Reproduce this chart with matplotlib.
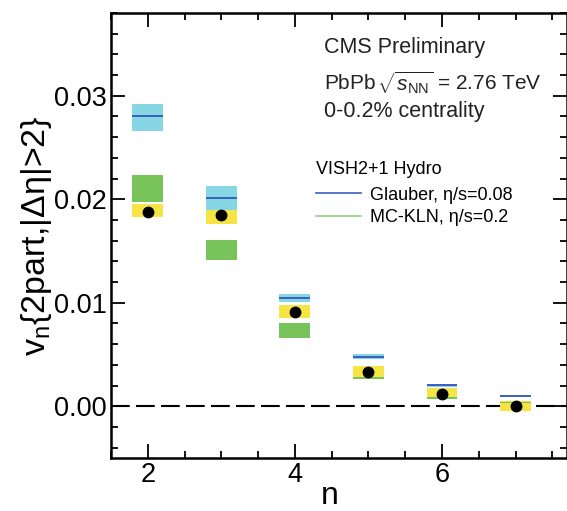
import matplotlib
matplotlib.use('Agg')
import matplotlib.pyplot as plt
from matplotlib.lines import Line2D
from matplotlib.ticker import MultipleLocator, FormatStrFormatter

plt.rcParams['font.family'] = ['Liberation Sans', 'DejaVu Sans']
plt.rcParams['mathtext.fontset'] = 'custom'
plt.rcParams['mathtext.rm'] = 'Liberation Sans'
plt.rcParams['mathtext.it'] = 'Liberation Sans:italic'

# harmonic number
n = [2, 3, 4, 5, 6, 7]

# CMS data, v_n{2part,|deta|>2} with systematic band
vn = [0.0188, 0.0185, 0.0091, 0.0033, 0.0012, 0.0000]
sys_lo = [0.01825, 0.01757, 0.00854, 0.00259, 0.00068, -0.00046]
sys_hi = [0.01950, 0.01900, 0.00980, 0.00388, 0.00175, 0.00051]

# VISH2+1, Glauber eta/s=0.08
glauber_mid = [0.02806, 0.02010, 0.01049, 0.00479, 0.00203, 0.00097]
glauber_lo = [0.02660, 0.01900, 0.01010, 0.00453, 0.00190, 0.00090]
glauber_hi = [0.02920, 0.02130, 0.01087, 0.00505, 0.00214, 0.00103]

# VISH2+1, MC-KLN eta/s=0.2
kln_lo = [0.01970, 0.01410, 0.00660, 0.00259, 0.00068, 0.00030]
kln_hi = [0.02230, 0.01610, 0.00806, 0.00284, 0.00090, 0.00042]

box_w = 0.42
cyan = '#86d6e4'
blue = '#3a5fbf'
green = '#79c35b'
green_line = '#8fd27f'
yellow = '#f6e445'


def spans(lo, hi):
    return [h - l for l, h in zip(lo, hi)]


fig = plt.figure(figsize=(5.67, 5.11), dpi=100)
ax = fig.add_axes([0.1958, 0.1037, 0.8042, 0.8709])

ax.axhline(0, color='black', lw=1.5, ls=(0, (9, 3)), zorder=1)

ax.bar(n, spans(glauber_lo, glauber_hi), bottom=glauber_lo, width=box_w,
       color=cyan, lw=0, zorder=2)
ax.hlines(glauber_mid, [x - box_w / 2 for x in n], [x + box_w / 2 for x in n],
          color=blue, lw=1.4, zorder=3)
ax.bar(n, spans(sys_lo, sys_hi), bottom=sys_lo, width=box_w,
       color=yellow, lw=0, zorder=3)
ax.bar(n, spans(kln_lo, kln_hi), bottom=kln_lo, width=box_w,
       color=green, lw=0, zorder=4)
ax.plot(n, vn, 'o', color='black', ms=7.5, zorder=5)

ax.set_xlim(1.5, 7.7)
ax.set_ylim(-0.005, 0.038)
ax.xaxis.set_major_locator(MultipleLocator(2))
ax.xaxis.set_minor_locator(MultipleLocator(0.5))
ax.yaxis.set_major_locator(MultipleLocator(0.01))
ax.yaxis.set_minor_locator(MultipleLocator(0.002))
ax.yaxis.set_major_formatter(FormatStrFormatter('%.2f'))

ax.tick_params(which='both', direction='in', top=True, right=True,
               width=1.3, labelsize=19.5, pad=3)
ax.tick_params(which='major', length=10)
ax.tick_params(which='minor', length=5)
for sp in ax.spines.values():
    sp.set_linewidth(1.8)

ax.set_xlabel('n', fontsize=23)
ax.xaxis.set_label_coords(0.48, -0.052)
ax.set_ylabel(r'v$_{\mathrm{n}}${2part,|Δη|>2}', fontsize=24.5, labelpad=0)

ax.text(0.467, 0.910, 'CMS Preliminary', transform=ax.transAxes,
        fontsize=15.5, color='#222222')
ax.text(0.467, 0.827, r'PbPb$\,\sqrt{s_{\mathrm{NN}}}$ = 2.76 TeV',
        transform=ax.transAxes, fontsize=15, color='#222222')
ax.text(0.467, 0.766, '0-0.2% centrality', transform=ax.transAxes,
        fontsize=15.5, color='#222222')

handles = [Line2D([], [], color=blue, lw=1.2),
           Line2D([], [], color=green_line, lw=1.2)]
ax.legend(handles, ['Glauber, η/s=0.08', 'MC-KLN, η/s=0.2'],
          title='VISH2+1 Hydro', loc='upper left', bbox_to_anchor=(0.449, 0.667),
          frameon=False, alignment='left', borderpad=0, borderaxespad=0,
          handlelength=2.5, handletextpad=0.5, labelspacing=0.32,
          fontsize=13, title_fontsize=13)
ax.get_legend()._legend_box.sep = 6

fig.savefig('out.png', dpi=100)
